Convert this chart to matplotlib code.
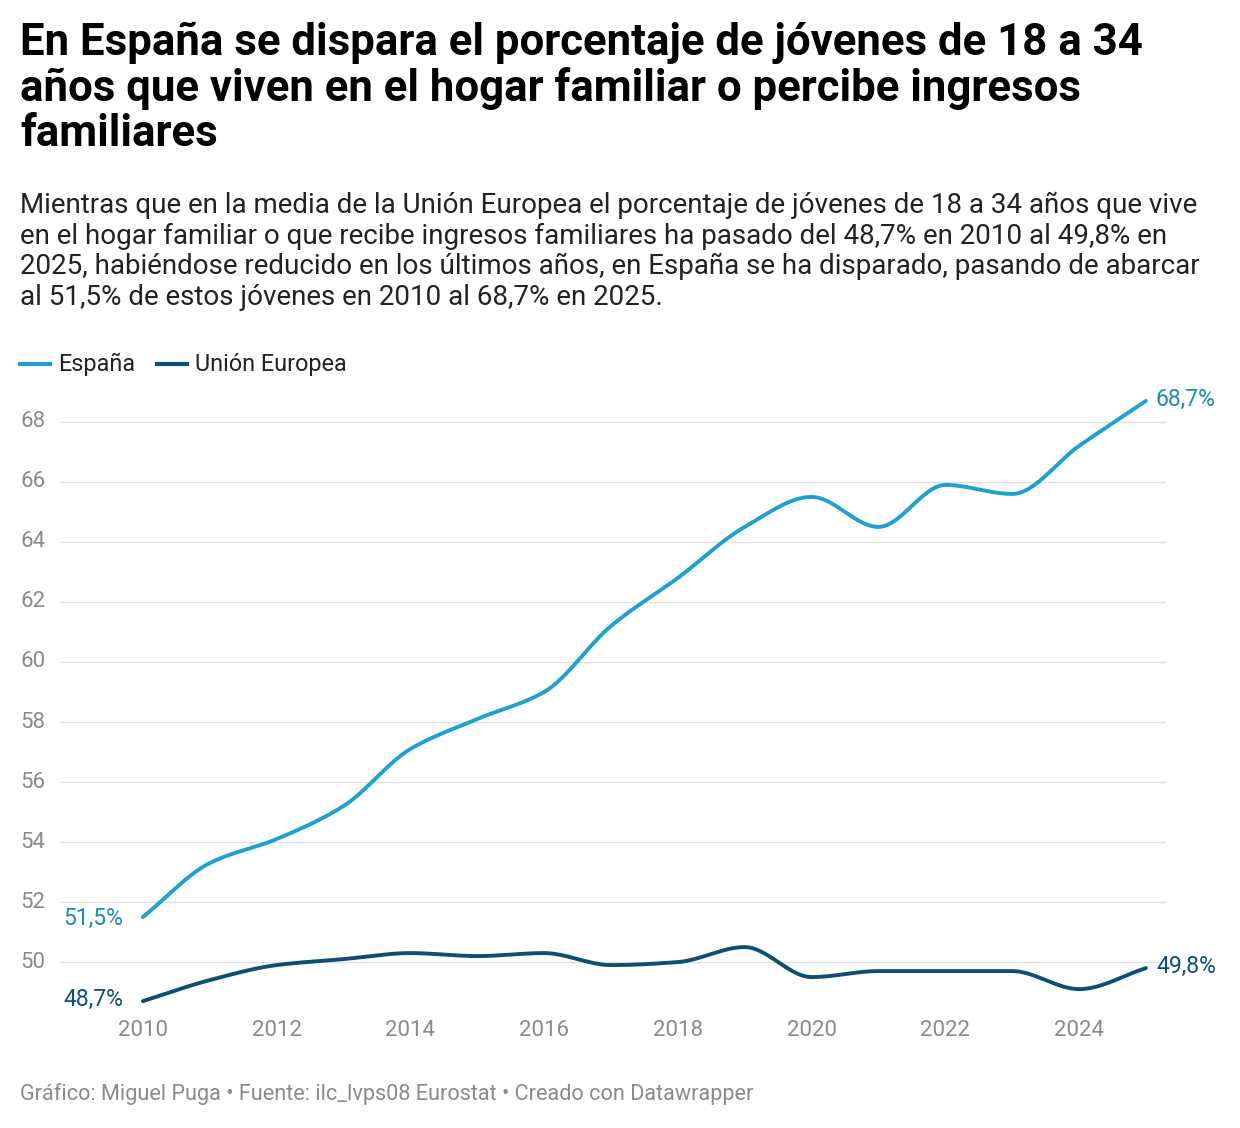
import numpy as np
import matplotlib.pyplot as plt

years = list(range(2010, 2026))
espana = [51.5, 53.3, 54.1, 55.2, 57.1, 58.1, 59.0, 61.2, 62.8, 64.5, 65.5, 64.5, 65.9, 65.6, 67.2, 68.7]
ue = [48.7, 49.4, 49.9, 50.1, 50.3, 50.2, 50.3, 49.9, 50.0, 50.5, 49.5, 49.7, 49.7, 49.7, 49.1, 49.8]
yticks = [50, 52, 54, 56, 58, 60, 62, 64, 66, 68]
xticks = [2010, 2012, 2014, 2016, 2018, 2020, 2022, 2024]

C_ES = '#1ea0d0'
C_UE = '#0b4f74'
plt.rcParams['font.family'] = ['Roboto', 'DejaVu Sans']


def smooth(x, y, n=20):
    # monotone cubic (pchip style) for a soft curve through the points
    x = np.asarray(x, float); y = np.asarray(y, float)
    h = np.diff(x); d = np.diff(y) / h
    m = np.zeros_like(y)
    for i in range(1, len(y) - 1):
        if d[i - 1] * d[i] > 0:
            m[i] = 2 / (1 / d[i - 1] + 1 / d[i])
    m[0], m[-1] = d[0], d[-1]
    xs, ys = [], []
    for i in range(len(h)):
        t = np.linspace(0, 1, n, endpoint=False)
        h00 = 2*t**3 - 3*t**2 + 1; h10 = t**3 - 2*t**2 + t
        h01 = -2*t**3 + 3*t**2; h11 = t**3 - t**2
        xs.append(x[i] + t*h[i])
        ys.append(h00*y[i] + h10*h[i]*m[i] + h01*y[i+1] + h11*h[i]*m[i+1])
    xs.append([x[-1]]); ys.append([y[-1]])
    return np.concatenate(xs), np.concatenate(ys)


fig = plt.figure(figsize=(12.4, 11.28), dpi=100)
W, H = 1240, 1128
ax = fig.add_axes([60/W, 1 - 1005/H, (1166-60)/W, (1005-400)/H])
ax.set_xlim(2008.76, 2025.30)
ax.set_ylim(48.57, 68.73)
for s in ax.spines.values():
    s.set_visible(False)
ax.set_yticks([])
ax.set_xticks(xticks)
ax.tick_params(axis='x', length=0, labelsize=16, labelcolor='#8a8a8a', pad=11)
for v in yticks:
    ax.axhline(v, color='#e0e0e0', lw=1, zorder=0)
    ax.text(-40/1106, v, str(v), transform=ax.get_yaxis_transform(), ha='left', va='center',
            fontsize=16, color='#8a8a8a')

for data, c in [(espana, C_ES), (ue, C_UE)]:
    xs, ys = smooth(years, data)
    ax.plot(xs, ys, color=c, lw=2.8, solid_capstyle='round', clip_on=False)

ax.text(2009.7, espana[0] - 0.05, '51,5%', color='#1a8ab8', fontsize=16.5, ha='right', va='center')
ax.text(2009.7, ue[0] + 0.05, '48,7%', color=C_UE, fontsize=16.5, ha='right', va='center')
ax.text(2025.15, espana[-1] + 0.05, '68,7%', color='#1a8ab8', fontsize=16.5, ha='left', va='center')
ax.text(2025.15, ue[-1] + 0.05, '49,8%', color=C_UE, fontsize=16.5, ha='left', va='center')

fig.text(20/W, 1 - 22/H, 'En España se dispara el porcentaje de jóvenes de 18 a 34\naños que viven en el hogar familiar o percibe ingresos\nfamiliares',
         fontsize=31.5, fontweight='bold', va='top', ha='left', linespacing=1.08)
fig.text(20/W, 1 - 192/H, 'Mientras que en la media de la Unión Europea el porcentaje de jóvenes de 18 a 34 años que vive\n'
         'en el hogar familiar o que recibe ingresos familiares ha pasado del 48,7% en 2010 al 49,8% en\n'
         '2025, habiéndose reducido en los últimos años, en España se ha disparado, pasando de abarcar\n'
         'al 51,5% de estos jóvenes en 2010 al 68,7% en 2025.',
         fontsize=20, va='top', ha='left', color='#222222', linespacing=1.16)

fig.lines.append(plt.Line2D([20/W, 50/W], [1 - 364/H]*2, color=C_ES, lw=3, transform=fig.transFigure))
fig.text(58/W, 1 - 364/H, 'España', fontsize=16.8, va='center', color='#222222')
fig.lines.append(plt.Line2D([157/W, 187/W], [1 - 364/H]*2, color=C_UE, lw=3, transform=fig.transFigure))
fig.text(195/W, 1 - 364/H, 'Unión Europea', fontsize=16.8, va='center', color='#222222')

fig.text(20/W, 1 - 1094/H, 'Gráfico: Miguel Puga • Fuente: ilc_lvps08 Eurostat • Creado con Datawrapper',
         fontsize=15.6, va='center', color='#8a8a8a')

fig.savefig('out.png', dpi=100, facecolor='white')
